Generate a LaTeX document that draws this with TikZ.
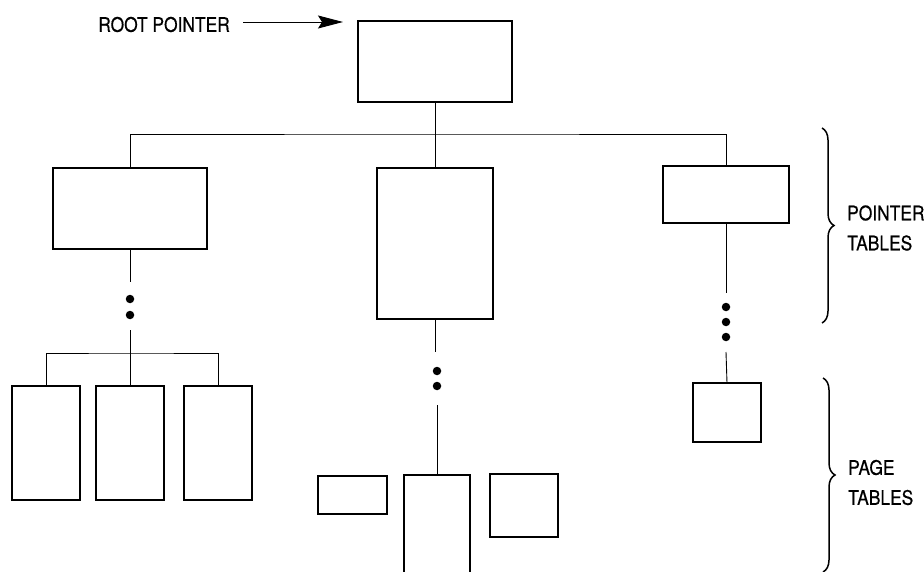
\documentclass[tikz,border=0pt]{standalone}
\usepackage{fontspec}
\setmainfont{TeX Gyre Heros}
\newfontfamily\lblfont{TeX Gyre Heros}[FakeBold=0.6]
\usetikzlibrary{arrows.meta,decorations.pathreplacing}
\newcommand{\cnd}[1]{\scalebox{0.87}[1]{#1}}
\begin{document}
\begin{tikzpicture}[x=1pt,y=-1pt,
  box/.style={draw,line width=2.6pt,inner sep=0pt,outer sep=0pt},
  conn/.style={line width=0.9pt},
  dotn/.style={circle,fill,inner sep=0pt,minimum size=8.5pt},
  lbl/.style={font=\lblfont\fontsize{20}{30}\selectfont,inner sep=0pt,align=left},
  brc/.style={decorate,decoration={brace,amplitude=12pt},line width=1.5pt}]
\useasboundingbox (0,0) rectangle (924,572);
\clip (0,0) rectangle (924,572);
% boxes
\node[box,minimum width=154,minimum height=81] (root) at (435,61.5) {};
\node[box,minimum width=154,minimum height=81] (L) at (130,208.5) {};
\node[box,minimum width=116,minimum height=151] (M) at (435,243.5) {};
\node[box,minimum width=126,minimum height=57] (R) at (726,194.5) {};
\node[box,minimum width=68,minimum height=114] (L1) at (46,443) {};
\node[box,minimum width=68,minimum height=114] (L2) at (130,443) {};
\node[box,minimum width=68,minimum height=114] (L3) at (218,443) {};
\node[box,minimum width=69,minimum height=38] (M1) at (352.5,495) {};
\node[box,minimum width=66,minimum height=130] (M2) at (437,540) {};
\node[box,minimum width=68,minimum height=63] (M3) at (524,505.5) {};
\node[box,minimum width=68,minimum height=59] (R1) at (727,412.5) {};
% labels
\node[lbl,anchor=east] (rp) at (230,24.5) {\cnd{ROOT POINTER}};
\node[lbl,anchor=west] (pt) at (847,228) {\cnd{POINTER}\\\cnd{TABLES}};
\node[lbl,anchor=west] (pg) at (848,482.5) {\cnd{PAGE}\\\cnd{TABLES}};
% root pointer arrow
\coordinate (a1) at (343,22);
\draw[conn,-{Stealth[length=25pt,width=13pt,inset=4pt]}] (rp.east |- a1) ++(13,0) -- (a1);
% top bus
\coordinate (bus) at (435,134);
\draw[conn] (root.south) -- (M.north);
\draw[conn] (L.north) |- (bus) -| (R.north);
% left column
\coordinate (lc1) at (130,282);
\coordinate (lc2) at (130,330);
\coordinate (lb) at (130,353);
\node[dotn] (ld1) at (130,299) {};
\node[dotn] (ld2) at (130,315) {};
\draw[conn] (L.south) -- (lc1);
\draw[conn] (lc2) -- (L2.north);
\draw[conn] (L1.north) |- (lb) -| (L3.north);
% middle column
\coordinate (mc1) at (435,352);
\coordinate (mc2) at (437,405);
\node[dotn] (md1) at (437,371) {};
\node[dotn] (md2) at (437,386) {};
\draw[conn] (M.south) -- (mc1);
\draw[conn] (mc2) -- (M2.north);
% right column
\coordinate (rc1) at (726,293);
\coordinate (rc2) at (726,352);
\node[dotn] (rd1) at (726,307) {};
\node[dotn] (rd2) at (726,322) {};
\node[dotn] (rd3) at (726,337) {};
\draw[conn] (R.south) -- (rc1);
\draw[conn] (rc2) -- (R1.north);
% braces
\coordinate (b1a) at (822,128);
\coordinate (b1b) at (822,323);
\coordinate (b2a) at (823,378);
\coordinate (b2b) at (823,572);
\draw[brc] (b1a) -- (b1b);
\draw[brc] (b2a) -- (b2b);
\end{tikzpicture}
\end{document}
